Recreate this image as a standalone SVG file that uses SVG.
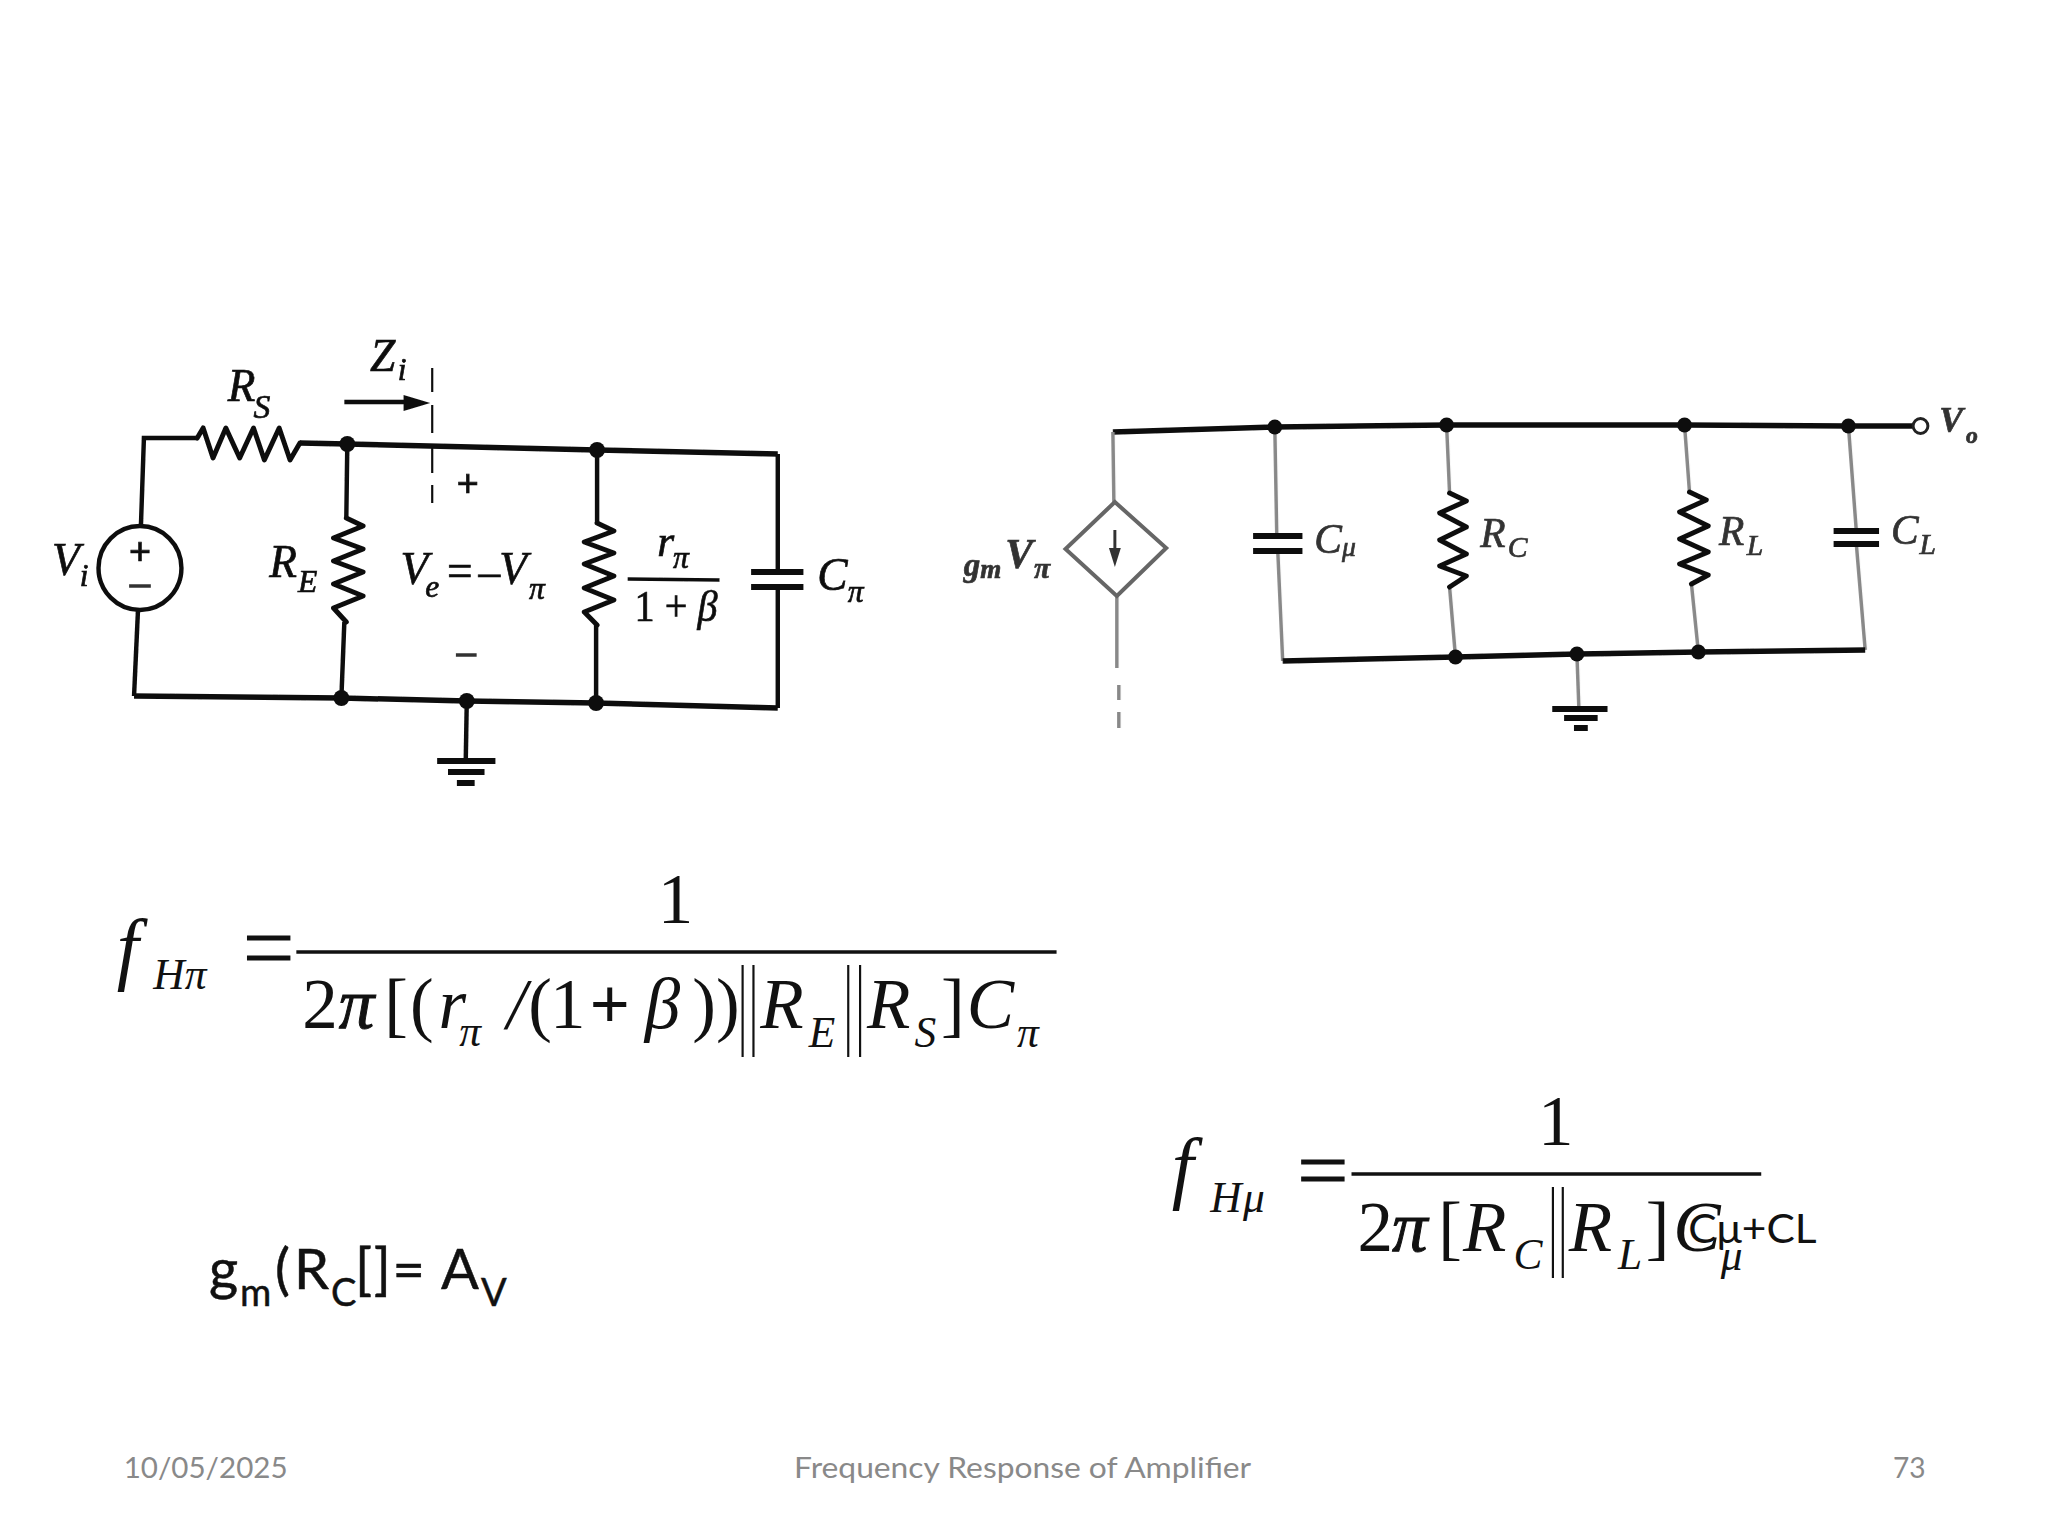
<svg xmlns="http://www.w3.org/2000/svg" width="2048" height="1536" viewBox="0 0 2048 1536">
<style>
.w{fill:none;stroke:#111;stroke-width:4.5;stroke-linejoin:miter}
.wb{fill:none;stroke:#111;stroke-width:5.5}
.g{fill:none;stroke:#888;stroke-width:3.5}
.z{fill:none;stroke:#111;stroke-width:5;stroke-linejoin:round;stroke-linecap:round}
.pl{fill:none;stroke:#111;stroke-width:6}
.d{fill:#111}
.t{font-family:"Liberation Serif","Times New Roman",serif;font-style:italic;fill:#111}
.u{font-family:"Liberation Serif","Times New Roman",serif;fill:#111}
.c{font-family:Lato,"Liberation Sans",sans-serif;fill:#111}
.f{font-family:Lato,"Liberation Sans",sans-serif;fill:#898989;font-size:29px}
.m{font-size:72px}
.s{font-size:44px}
.b{fill:none;stroke:#111;stroke-width:2.2}
#left-circuit text{stroke:#111;stroke-width:.7}
#right-circuit text{stroke:#333;stroke-width:.7;fill-opacity:.85}
#gain text{stroke:#111;stroke-width:.5}
</style>
<defs><filter id="scan" x="-5%" y="-5%" width="110%" height="110%"><feGaussianBlur stdDeviation="0.7"/></filter></defs>
<rect width="2048" height="1536" fill="#fff"/>

<g id="connectors" filter="url(#scan)">
<g id="connectors-left" transform="translate(0.76 0) scale(.9873 1)">
<path class="w" d="M142 525L145 438H199"/>
<path class="wb" d="M303 443L351 444L604 450L787 454"/>
<path class="w" d="M787 454V572M787 587V708"/>
<path class="wb" d="M135 696L345 698L472 701L603 703L787 708"/>
<path class="w" d="M139 610L135 696"/>
<path class="w" d="M351 444L350 518M348 622L345 698"/>
<path class="w" d="M604 450V523M603 625V703"/>
<path class="w" d="M472 701L471 760"/>
<path class="b" stroke-dasharray="24 13 28 15 25 12 18" d="M437 368V503"/>
<path class="w" d="M348 402H412"/>
<path class="d" d="M408 395L435 403L408 411Z"/>
</g>
<g id="connectors-right" transform="translate(12.06 0) scale(.9873 1)">
<path class="wb" d="M1115 432L1279 427L1453 425L1694 425L1860 426L1925 426"/>
<path class="g" d="M1115 432L1116 502M1119 596V668M1121 685V700M1121 712V728"/>
<path class="g" d="M1279 427L1281 536M1282 551L1287 661"/>
<path class="g" d="M1453 425L1456 493M1456 587L1462 657"/>
<path class="g" d="M1694 425L1699 492M1701 584L1708 652"/>
<path class="g" d="M1860 426L1868 531M1868 544L1877 650"/>
<path class="wb" d="M1287 661L1462 657L1585 654L1708 652L1877 650"/>
<path class="g" d="M1585 654L1587 709"/>
</g>
</g>

<g id="left-circuit" filter="url(#scan)" transform="translate(0.76 0) scale(.9873 1)">
<g id="R_S"><path class="z" d="M199 438L205 428L215 458L228 428L242 458L256 428L267 460L282 428L293 460L303 443"/>
<text class="t" font-size="46" x="230" y="401" textLength="28" lengthAdjust="spacingAndGlyphs">R</text><text class="t" font-size="34" x="256" y="418">S</text></g>
<g id="V_i"><ellipse cx="141" cy="568" rx="42" ry="42" fill="#fff" stroke="#111" stroke-width="4.5"/>
<text class="u" font-size="40" font-weight="bold" x="141" y="565" text-anchor="middle">+</text>
<path d="M130 586H152" stroke="#333" stroke-width="3.5"/>
<text class="t" font-size="46" x="52" y="575">V</text><text class="t" font-size="32" x="80" y="586">i</text></g>
<g id="R_E"><path class="z" d="M350 518L367 526L337 538L367 549L337 561L367 572L337 584L367 596L337 608L350 622"/>
<text class="t" font-size="46" x="272" y="577">R</text><text class="t" font-size="32" x="301" y="592">E</text></g>
<g id="R_pi"><path class="z" d="M604 523L621 531L591 542L621 553L591 564L621 576L591 588L621 600L591 612L604 625"/>
<text class="t" font-size="44" x="665" y="556">r</text><text class="t" font-size="32" x="681" y="568">π</text>
<path d="M635 579L728 580" stroke="#111" stroke-width="3.5"/>
<text class="u" font-size="44" x="642" y="621" textLength="84" lengthAdjust="spacingAndGlyphs">1 + <tspan class="t">β</tspan></text></g>
<g id="C_pi"><path class="pl" d="M760 572H813M760 587H813"/>
<text class="t" font-size="46" x="827" y="590">C</text><text class="t" font-size="32" x="858" y="602">π</text></g>
<g id="V_e"><text class="t" font-size="46" x="405" y="584">V</text><text class="t" font-size="32" x="430" y="597">e</text>
<text class="u" font-size="46" x="452" y="586">=</text><text class="u" font-size="44" x="484" y="586">–</text><text class="t" font-size="46" x="505" y="584">V</text><text class="t" font-size="32" x="535" y="599">π</text>
<text class="u" font-size="40" font-weight="bold" x="473" y="497" text-anchor="middle">+</text>
<path d="M461 655H482" stroke="#333" stroke-width="3.5"/></g>
<g id="Z_i"><text class="t" font-size="46" x="374" y="371">Z</text><text class="t" font-size="32" x="402" y="380">i</text></g>
<g id="junctions-left"><circle class="d" cx="351" cy="444" r="8"/><circle class="d" cx="604" cy="450" r="8"/><circle class="d" cx="345" cy="698" r="8"/><circle class="d" cx="472" cy="701" r="8"/><circle class="d" cx="603" cy="703" r="8"/></g>
<g id="ground-left"><path class="pl" d="M442 761H501M453 772H490M462 783H480"/></g>
</g>

<g id="right-circuit" filter="url(#scan)" transform="translate(12.06 0) scale(.9873 1)">
<g id="source"><path d="M1117 502L1169 548L1119 596L1067 549Z" fill="#fff" stroke="#666" stroke-width="4"/>
<path d="M1117 530V548" stroke="#333" stroke-width="3"/><path d="M1111 548H1123L1117 567Z" fill="#333"/>
<text class="t" font-size="34" font-weight="bold" x="964" y="576" textLength="38" lengthAdjust="spacingAndGlyphs">g<tspan font-size="28" dy="2">m</tspan></text>
<text class="t" font-size="42" font-weight="bold" x="1006" y="568">V</text><text class="t" font-size="30" font-weight="bold" x="1035" y="578">π</text></g>
<g id="C_mu"><path class="pl" d="M1257 536H1307M1257 551H1307"/><text class="t" font-size="42" x="1319" y="553">C</text><text class="t" font-size="28" x="1347" y="556">μ</text></g>
<g id="R_C"><path class="z" d="M1456 493L1473 501L1446 513L1473 527L1446 540L1473 554L1446 566L1473 576L1456 587"/><text class="t" font-size="42" x="1487" y="547">R</text><text class="t" font-size="30" x="1515" y="557">C</text></g>
<g id="R_L"><path class="z" d="M1699 492L1716 500L1689 512L1718 526L1689 539L1718 552L1689 564L1718 575L1701 584"/><text class="t" font-size="42" x="1729" y="545">R</text><text class="t" font-size="30" x="1757" y="555">L</text></g>
<g id="C_L"><path class="pl" d="M1845 531H1891M1845 544H1891"/><text class="t" font-size="42" x="1903" y="544">C</text><text class="t" font-size="30" x="1932" y="554">L</text></g>
<g id="V_o"><circle cx="1933" cy="426" r="7.5" fill="#fff" stroke="#222" stroke-width="3"/><text class="t" font-size="36" font-weight="bold" x="1952" y="432">V</text><text class="t" font-size="24" font-weight="bold" x="1979" y="443">o</text></g>
<g id="junctions-right"><circle class="d" cx="1279" cy="427" r="7.5"/><circle class="d" cx="1453" cy="425" r="7.5"/><circle class="d" cx="1694" cy="425" r="7.5"/><circle class="d" cx="1860" cy="426" r="7.5"/><circle class="d" cx="1462" cy="657" r="7.5"/><circle class="d" cx="1585" cy="654" r="7.5"/><circle class="d" cx="1708" cy="652" r="7.5"/></g>
<g id="ground-right"><path class="pl" d="M1560 709H1616M1572 718H1606M1582 728H1596"/></g>
</g>

<g id="eq-pi" transform="translate(1.14 0) scale(.9873 1)">
<text class="t" font-size="80" x="117" y="975">f</text>
<text class="t s" x="154" y="989">H</text><text class="t s" x="186" y="989">π</text>
<path d="M249 938H293M249 958H293" stroke="#111" stroke-width="5"/>
<path d="M299 952H1069" stroke="#111" stroke-width="3.5"/>
<text class="u m" x="665" y="923">1</text>
<text class="u m" x="305" y="1028">2</text><text class="t m" x="342" y="1028" stroke="#111" stroke-width="1">π</text>
<text class="u m" x="388" y="1028">[</text><text class="u m" x="414" y="1028">(</text><text class="t m" x="443" y="1028">r</text>
<text class="t s" x="464" y="1046">π</text>
<text class="t m" x="512" y="1028">/</text><text class="u m" x="534" y="1028">(</text><text class="u m" x="556" y="1028">1</text>
<text class="u m" font-weight="bold" x="596" y="1028">+</text>
<text class="t m" x="652" y="1028">β</text>
<text class="u m" x="700" y="1028">)</text><text class="u m" x="724" y="1028">)</text>
<text class="t m" x="769" y="1028">R</text><text class="t s" x="818" y="1047">E</text>
<text class="t m" x="877" y="1028">R</text><text class="t s" x="925" y="1047">S</text>
<text class="u m" x="952" y="1028">]</text>
<text class="t m" x="978" y="1028">C</text><text class="t s" x="1029" y="1047">π</text>
<path class="b" d="M751 965V1057M762 965V1057M858 965V1057M870 965V1057"/>
</g>

<g id="eq-mu" transform="translate(14.7 0) scale(.9873 1)">
<text class="t" font-size="80" x="1172" y="1194">f</text>
<text class="t s" x="1211" y="1212">H</text><text class="t s" x="1244" y="1212">μ</text>
<path d="M1303 1162H1347M1303 1179H1347" stroke="#111" stroke-width="5"/>
<path d="M1354 1174H1769" stroke="#111" stroke-width="3.5"/>
<text class="u m" x="1543" y="1145">1</text>
<text class="u m" x="1360" y="1251">2</text><text class="t m" x="1395" y="1251" stroke="#111" stroke-width="1">π</text>
<text class="u m" x="1442" y="1251">[</text>
<text class="t m" x="1467" y="1251">R</text><text class="t s" x="1518" y="1269">C</text>
<path class="b" d="M1558 1187V1278M1568 1187V1278"/>
<text class="t m" x="1574" y="1251">R</text><text class="t s" x="1624" y="1269">L</text>
<text class="u m" x="1652" y="1251">]</text>
<text class="t m" x="1680" y="1251">C</text><text class="t s" x="1728" y="1270">μ</text>
<text class="c" font-size="41" x="1695" y="1243" textLength="130" lengthAdjust="spacingAndGlyphs">Cμ+CL</text>
</g>

<g id="gain">
<text class="c" font-size="56" x="209" y="1289">g</text><text class="c" font-size="38" x="240" y="1306">m</text>
<text class="c" font-size="56" x="275" y="1289">(</text><text class="c" font-size="56" x="294" y="1289">R</text><text class="c" font-size="38" x="331" y="1306">C</text>
<text class="c" font-size="56" x="355" y="1289" textLength="70" lengthAdjust="spacing">[]=</text><text class="c" font-size="56" x="441" y="1289">A</text><text class="c" font-size="38" x="481" y="1306">V</text>
</g>

<g id="footer" transform="translate(1.27 0) scale(.9873 1)">
<text class="f" x="124" y="1478" textLength="166" lengthAdjust="spacingAndGlyphs">10/05/2025</text>
<text class="f" x="803" y="1478" textLength="463" lengthAdjust="spacingAndGlyphs">Frequency Response of Amplifier</text>
<text class="f" x="1916" y="1478" textLength="33" lengthAdjust="spacingAndGlyphs">73</text>
</g>
</svg>
